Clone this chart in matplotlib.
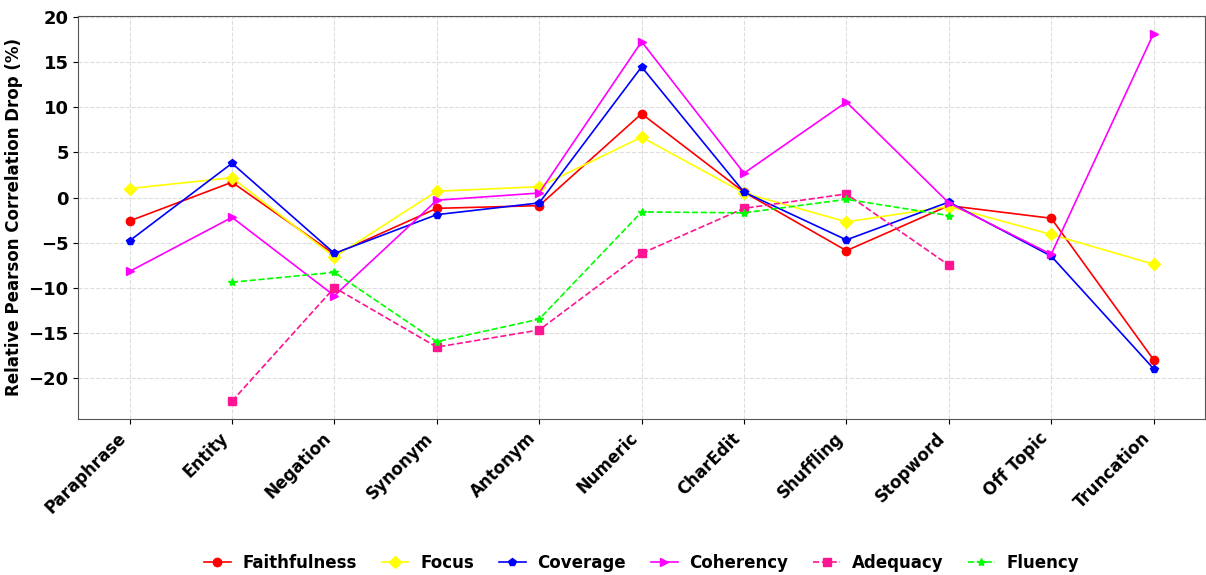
import numpy as np
import matplotlib
matplotlib.use("Agg")
import matplotlib.pyplot as plt

categories = ["Paraphrase", "Entity", "Negation", "Synonym", "Antonym", "Numeric",
              "CharEdit", "Shuffling", "Stopword", "Off Topic", "Truncation"]

faithfulness = [-2.6, 1.7, -6.3, -1.2, -0.9, 9.3, 0.6, -5.9, -0.9, -2.3, -18.0]
focus = [1.0, 2.2, -6.6, 0.7, 1.2, 6.7, 0.5, -2.7, -1.0, -4.1, -7.4]
coverage = [-4.8, 3.8, -6.2, -1.9, -0.6, 14.5, 0.6, -4.7, -0.5, -6.5, -19.0]
coherency = [-8.2, -2.2, -10.9, -0.3, 0.5, 17.3, 2.7, 10.6, -0.6, -6.3, 18.2]
adequacy = [np.nan, -22.6, -10.0, -16.6, -14.7, -6.2, -1.2, 0.4, -7.5, np.nan, np.nan]
fluency = [np.nan, -9.4, -8.3, -16.0, -13.5, -1.6, -1.7, -0.2, -2.0, np.nan, np.nan]

series = [
    ("Faithfulness", faithfulness, "#FF0000", "o", "-"),
    ("Focus", focus, "#FFFF00", "D", "-"),
    ("Coverage", coverage, "#0000FF", "p", "-"),
    ("Coherency", coherency, "#FF00FF", ">", "-"),
    ("Adequacy", adequacy, "#FF1493", "s", "--"),
    ("Fluency", fluency, "#00FF00", "*", "--"),
]

plt.rcParams["font.family"] = ["DejaVu Sans"]
plt.rcParams["font.weight"] = "bold"

fig = plt.figure(figsize=(12.06, 5.75), dpi=100)
ax = fig.add_axes([0.065, 0.271, 0.934, 0.702])

x = np.arange(len(categories))
for name, vals, color, marker, ls in series:
    ax.plot(x, vals, color=color, marker=marker, linestyle=ls, linewidth=1.2,
            markersize=6, label=name)

ax.set_xlim(-0.5, 10.5)
ax.set_ylim(-24.6, 20.2)
ax.set_xticks(x)
ax.set_xticklabels(categories, rotation=45, ha="right", fontsize=12, fontweight="bold")
ax.set_yticks([-20, -15, -10, -5, 0, 5, 10, 15, 20])
ax.tick_params(axis="y", labelsize=13)
for lab in ax.get_yticklabels():
    lab.set_fontweight("bold")
ax.set_ylabel("Relative Pearson Correlation Drop (%)", fontsize=12, fontweight="bold")
ax.grid(True, linestyle="--", color="#DDDDDD", linewidth=0.8)
ax.set_axisbelow(True)
for sp in ax.spines.values():
    sp.set_color("#555555")

fig.legend(loc="center", bbox_to_anchor=(0.532, 0.021), ncol=6, frameon=False,
           prop={"size": 12, "weight": "bold"}, handlelength=1.6,
           handletextpad=0.7, columnspacing=1.5)

fig.savefig("out.png", dpi=100)
